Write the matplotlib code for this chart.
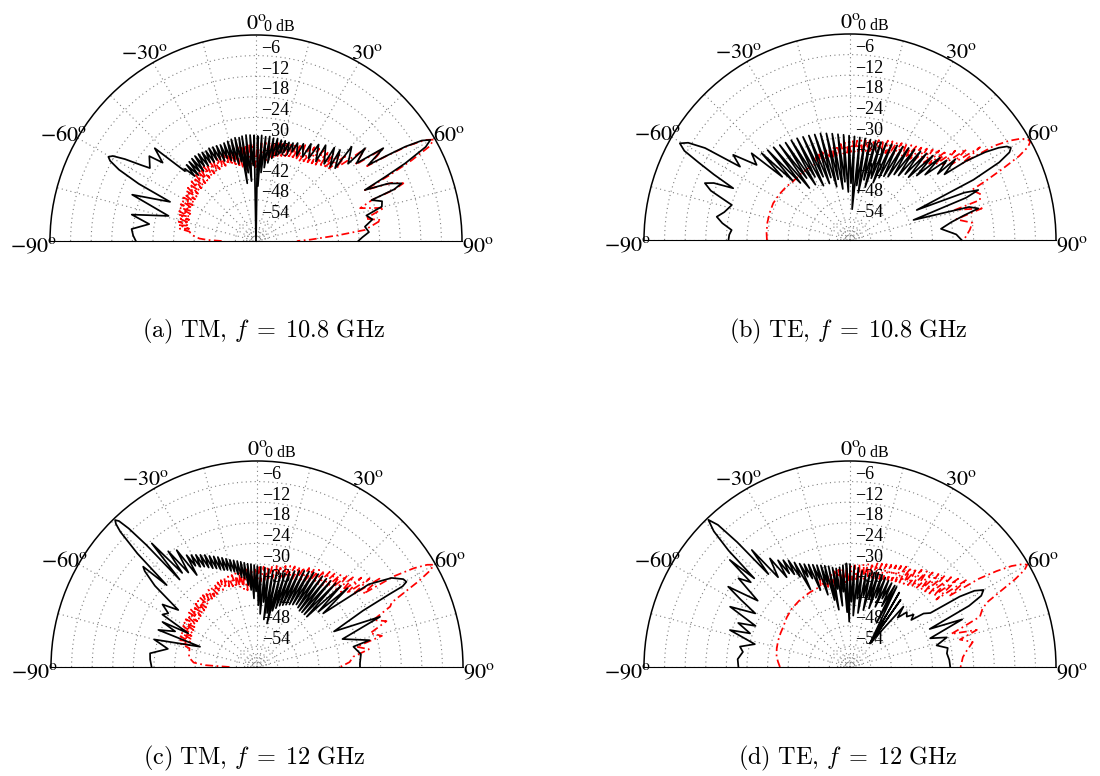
import numpy as np
import matplotlib
matplotlib.use("Agg")
import matplotlib.pyplot as plt

# --- dB floor of the polar scale (centre of each plot) ---
DB_FLOOR = -60.0

# ---------------- (a) TM, 10.8 GHz ----------------
tm108_solid_theta = [
    -90, -87.5, -84.5, -81, -78, -74, -69.5, -65.5, -64, -62.5,
    -61.2, -60.3, -59.3, -58, -56.5, -55.5, -51.5, -50, -47.5, -45.5,
    -44.5, -43.4, -42.3, -41.2, -40.1, -39.0, -37.9, -36.8, -35.7, -34.6,
    -33.5, -32.4, -31.3, -30.2, -29.1, -28.0, -26.9, -25.8, -24.7, -23.6,
    -22.5, -21.4, -20.3, -19.2, -18.1, -17.0, -15.9, -14.8, -13.7, -12.6,
    -11.5, -10.4, -9.3, -8.6, -7.6, -6.5, -5.4, -4.3, -3.2, -2.1,
    -1.0, 0.0, 0.9, 2.0, 3.1, 4.2, 5.3, 6.4, 7.5, 8.6,
    9.7, 10.8, 11.9, 13.0, 14.1, 15.2, 16.3, 17.4, 18.5, 19.6,
    20.7, 22, 23, 25.5, 26, 29, 29.5, 32.5, 33, 37,
    36, 41.5, 40, 45, 42.7, 47.4, 45.4, 50, 49.6, 52.3,
    53.9, 55.9, 56.8, 57.7, 58.8, 59.9, 61, 62.5, 63.6, 64.9,
    66.5, 68.4, 69.5, 70.5, 72.5, 74.7, 77, 79.5, 82.5, 85.5,
    88, 90]
tm108_solid_db = [
    -25, -24.2, -23.6, -28.5, -23, -33.5, -21.5, -32.5, -22, -15,
    -11.5, -10.5, -11.5, -15, -20, -22.5, -20.3, -24.5, -20, -31,
    -30.5, -34, -30, -34.5, -29.8, -34, -29.6, -34.5, -29.5, -33.5,
    -29.6, -34, -29.8, -33.5, -30, -34, -29.7, -33.8, -29.9, -34.2,
    -30, -35, -30.2, -34.5, -30, -35.5, -29.8, -36, -29.5, -37,
    -29.3, -36.5, -29.5, -43, -29.2, -40, -29, -42.5, -29.1, -38,
    -29.2, -60, -29.4, -44, -29.2, -40, -29.5, -38.5, -29.3, -37,
    -29.6, -35.5, -29.5, -34.5, -29.7, -33.5, -29.6, -33, -29.7, -32.5,
    -29.5, -32, -29, -32.5, -28.5, -32, -27.5, -31.5, -26.5, -31,
    -25.5, -30, -24.5, -29.5, -23.9, -28.7, -20.9, -25, -18.3, -23,
    -14.1, -20.5, -15, -8.6, -3.5, -1.3, -3.5, -11, -18, -25,
    -18, -14.4, -17, -24.3, -21.5, -22, -27, -25.5, -28, -27,
    -29, -30.2]

tm108_dash_theta = [
    -90, -88.8, -87.5, -85, -83.5,
    -82.0, -80.8, -79.6, -78.4, -77.2, -76.0, -74.8, -73.6, -72.4, -71.2,
    -70.0, -68.8, -67.6, -66.4, -65.2, -64.0, -62.8, -61.6, -60.4, -59.2,
    -58.0, -56.8, -55.6, -54.4, -53.2, -52.0, -50.8, -49.6, -48.4, -47.2,
    -46.0, -44.8, -43.6, -42.4, -41.2, -40.0, -38.8, -37.6, -36.4, -35.2,
    -34.0, -32.8, -31.6, -30.4, -29.2, -28.0, -26.8, -25.6, -24.4, -23.2,
    -22.0, -20.8, -19.6, -18.4, -17.2, -16.0, -14.8, -13.6, -12.4, -11.2,
    -10.0, -8.8, -7.6, -6.4, -5.2, -4.0, -2.8, -1.6, -0.4, 0.8,
    2.0, 3.2, 4.4, 5.6, 6.8, 8.0, 9.2, 10.4, 11.6, 12.8,
    14.0, 15.2, 16.4, 17.6, 18.8, 20.0, 21.2, 22.4, 23.6, 24.8,
    26.0, 27.2, 28.4, 29.6, 30.8, 32.0, 33.2, 34.4, 35.6, 36.8,
    38.0, 39.2, 40.4, 41.6, 42.8, 44.0, 45.2, 46.4, 47.6,
    48.6, 49.8, 51, 52.5, 54, 55, 56, 57, 58, 59.2,
    60.3, 61.4, 62.6, 63.8, 65, 66.8, 68.6, 69.6, 70.5, 72.5,
    75.5, 78.5, 80.5, 84.2, 86, 88.5, 90]
tm108_dash_db = [
    -50, -46, -43.5, -41.5, -40.8,
    -40.5, -37.5, -40.2, -37.0, -40.0, -36.8, -39.8, -36.5, -39.6, -36.2,
    -39.4, -36.0, -39.3, -35.8, -39.1, -35.6, -39.0, -35.5, -38.8, -35.3,
    -38.7, -35.2, -38.5, -35.0, -38.4, -34.8, -38.2, -34.6, -38.0, -34.4,
    -37.9, -34.2, -37.7, -34.0, -37.6, -33.8, -37.4, -33.6, -37.2, -33.5,
    -37.0, -33.4, -36.9, -33.2, -36.8, -33.1, -36.6, -33.0, -36.5, -32.8,
    -36.4, -32.7, -36.3, -32.5, -36.8, -32.4, -37.5, -32.2, -38.0, -32.0,
    -38.5, -31.9, -39.0, -31.8, -38.0, -31.7, -37.5, -31.6, -38.5, -31.5,
    -37.0, -31.4, -36.5, -31.2, -37.0, -31.0, -36.0, -30.8, -35.5, -30.5,
    -35.0, -30.2, -34.8, -29.9, -34.5, -29.6, -34.2, -29.3, -34.0, -29.0,
    -33.7, -28.6, -33.4, -28.2, -33.0, -27.8, -32.6, -27.4, -32.2, -27.0,
    -31.8, -26.4, -31.5, -25.8, -31.0, -25.0, -30.0, -23.5, -28.5,
    -25, -18.5, -21, -23.5, -14.5, -17, -21, -14, -7.5, -2.5,
    -0.4, -2.5, -9, -17, -25, -17, -13.9, -17, -24, -28.2,
    -21.5, -27.5, -23, -28.1, -36, -44, -48]

# ---------------- (b) TE, 10.8 GHz ----------------
te108_solid_theta = [
    -90, -87.5, -85.2, -82.5, -80.1, -77.5, -73.5, -70.5, -68.6, -67.3,
    -66.1, -64.3, -62.9, -61.7, -60.4, -59, -57.6, -56.3, -53.9, -51.2,
    -48.6,
    -47.0, -45.5, -44.0, -42.5, -41.0, -39.5, -38.0, -36.5, -35.0, -33.5,
    -32.0, -30.5, -29.0, -27.5, -26.0, -24.5, -23.0, -21.5, -20.0, -18.5,
    -17.0, -15.5, -14.0, -12.5, -11.0, -9.5, -8.0, -6.5, -5.0, -3.5,
    -2.0, -0.5, 1.0, 2.5, 4.0, 5.5, 7.0, 8.5, 10.0, 11.5,
    13.0, 14.5, 16.0, 17.5, 19.0, 20.5, 22.0, 23.5, 25.0, 26.5,
    28.0, 29.5, 31.0, 32.5, 34.0, 35.5, 37.0, 38.5, 40.0, 41.5,
    43.0, 44.5, 46.0, 47.5, 49.0, 50.5,
    53, 52.5, 55.2, 55.8, 57, 58.2, 59.2, 60.2, 61.2, 62.5,
    64, 65.8, 67.5, 68.7, 70, 72.5, 74.5, 76.2, 77.8, 80,
    83, 87, 90]
te108_solid_db = [
    -24.6, -24.8, -25.4, -22.5, -20.6, -22.5, -24.1, -17, -14.6, -17,
    -22.8, -16, -10.5, -5.2, -3, -5, -10, -21.5, -17.9, -25.1,
    -21.8,
    -33, -23.9, -36, -24.5, -38, -25, -40.8, -25.6, -38, -26,
    -41, -26.3, -39, -26.6, -42.4, -27, -40, -27.3, -42.5, -27.6,
    -41, -27.8, -44, -28.2, -42, -28.6, -45, -29, -43, -29.3,
    -46, -29.6, -43.5, -29.8, -51, -30, -44, -30.1, -46, -30.2,
    -42, -30.2, -44, -30.1, -41, -30, -42, -29.6, -40, -29.2,
    -39, -28.7, -38.5, -28.2, -37, -27.6, -36.5, -27, -35, -26.3,
    -35, -25.5, -33, -24.5, -31, -23.5,
    -28, -21.3, -26.5, -19, -13, -9, -6.8, -6, -7, -11,
    -20, -38.7, -24, -19.9, -24, -40.6, -24, -21.5, -26, -30,
    -33.3, -29, -27.5]

te108_dash_theta = [
    -90, -85, -78, -71, -64.4, -57, -50, -44.2, -37, -30,
    -23.5,
    -22.3, -21.1, -19.9, -18.7, -17.5, -16.3, -15.1, -13.9, -12.7, -11.5,
    -10.3, -9.1, -7.9, -6.7, -5.5, -4.3, -3.1, -1.9, -0.7, 0.5,
    1.7, 2.9, 4.1, 5.3, 6.5, 7.7, 8.9, 10.1, 11.3, 12.5,
    13.7, 14.9, 16.1, 17.3, 18.5, 19.7, 20.9, 22.1, 23.3, 24.5,
    25.7, 26.9, 28.1, 29.3, 30.5, 31.7, 32.9, 34.1, 35.3, 36.5,
    37.7, 38.9, 40.1, 41.3, 42.5, 43.7, 44.9, 46.1, 47.3, 48.5,
    49.7, 50.9, 52.1, 53.3, 54.5, 55.7,
    56.8, 58, 59.3, 60.5, 61.4, 62.4, 63.6, 65, 66.5, 67.7,
    70.5, 72.9, 74, 76.5, 79, 82, 85.2, 89, 90]
te108_dash_db = [
    -35.8, -35.6, -35.4, -35.3, -35.2, -35.5, -35.8, -36.2, -36, -35.8,
    -35.6,
    -33.8, -36.0, -33.5, -35.8, -33.2, -35.6, -33.0, -35.5, -32.7, -35.3,
    -32.5, -35.2, -32.2, -35.0, -31.9, -34.8, -31.6, -34.6, -31.4, -34.4,
    -31.2, -34.3, -31.0, -34.1, -30.8, -33.9, -30.6, -33.7, -30.3, -33.5,
    -30.0, -33.3, -29.7, -33.1, -29.4, -32.9, -29.0, -32.7, -28.7, -32.4,
    -28.4, -32.1, -28.0, -31.8, -27.6, -31.4, -27.1, -31.0, -26.6, -30.6,
    -26.0, -30.1, -25.2, -29.5, -24.3, -28.8, -23.2, -28.0, -21.8, -26.8,
    -19.8, -25.2, -17.0, -23.0, -13.5, -20.5,
    -10, -5.5, -2.2, -0.5, -0.2, -1.5, -5, -11, -17, -21.7,
    -19.8, -20.4, -28.2, -20.5, -28.5, -24, -25, -26.5, -27]

# ---------------- (c) TM, 12 GHz ----------------
tm12_solid_theta = [
    -90, -86, -82.7, -78.5, -75, -70.4, -69.4, -66.5, -64.5, -63.9,
    -61, -58.8, -56.5, -54.1, -51.5, -49.5, -48.6, -47.8, -46.5, -45.3,
    -44.6, -44, -43.4, -42.8, -42.2, -41.5, -40.4, -38.5, -37.5, -36,
    -34.5, -33.2,
    -32.2, -31.3, -30.4, -29.5, -28.6, -27.7, -26.8, -25.9, -25.0, -24.1,
    -23.2, -22.3, -21.4, -20.5, -19.6, -18.7, -17.8, -16.9, -16.0, -15.1,
    -14.2, -13.3, -12.4, -11.5, -10.6, -9.7, -8.8, -7.9, -7.0, -6.1,
    -5.2, -4.3, -3.4, -2.5, -1.6, -0.7, 0.2, 1.2, 2.2, 3.4,
    4.6, 5.8, 7.0, 8.2, 9.4, 10.6, 11.8, 13.0, 14.2, 15.4,
    16.6, 17.8, 19.0, 20.2, 21.4, 22.6, 23.8, 25.0, 26.2, 27.4,
    28.6, 29.8, 31.0, 32.2, 33.4, 34.6, 35.8, 37.0, 38.2, 39.4,
    40.6, 42.0, 43.2, 44.7, 46.0, 48.0, 49.0, 51.0,
    53.5, 56.5, 59, 60.3, 61, 61.2, 62, 65.2, 67.8, 71.9,
    76.6, 78.1, 83, 88, 90]
tm12_solid_db = [
    -29.3, -28.8, -28.6, -33.5, -29, -42.4, -29.3, -34, -29.5, -37.7,
    -28.5, -29.8, -27, -31.7, -22, -17, -15.8, -24.5, -12, -4,
    -1.5, -0.5, -1.5, -5, -12, -26, -12.7, -25, -17.5, -26,
    -18.7, -28,
    -21.5, -25.5, -22.2, -26.5, -22.8, -27.0, -23.4, -27.8, -24.0, -28.5,
    -24.8, -29.0, -25.4, -29.6, -26.0, -30.2, -26.6, -30.5, -27.2, -31.0,
    -27.8, -31.5, -28.2, -32.5, -28.6, -33.5, -29.0, -34.0, -29.4, -36.0,
    -29.8, -37.5, -30.0, -40.0, -30.3, -38.0, -30.6, -42.0, -30.8, -44.5,
    -31.0, -41.0, -31.3, -46.0, -31.6, -44.0, -31.8, -47.0, -31.9, -43.0,
    -31.5, -42.0, -30.8, -41.0, -30.0, -40.5, -29.4, -40.0, -28.8, -39.5,
    -28.3, -39.0, -27.9, -38.5, -27.6, -39.0, -27.4, -39.5, -27.3, -39.4,
    -27.0, -39.4, -26.5, -39.4, -26.0, -36.0, -25.0, -35.2,
    -19.5, -13, -10.3, -9.9, -11.5, -16, -25, -35.3, -21.3, -33.8,
    -26.3, -31.3, -29.5, -30, -30]

tm12_dash_theta = [
    -90, -88, -86, -82, -78, -74.5,
    -73.0, -71.8, -70.6, -69.4, -68.2, -67.0, -65.8, -64.6, -63.4, -62.2,
    -61.0, -59.8, -58.6, -57.4, -56.2, -55.0, -53.8, -52.6, -51.4, -50.2,
    -49.0, -47.8, -46.6, -45.4, -44.2, -43.0, -41.8, -40.6, -39.4, -38.2,
    -37.0, -35.8, -34.6, -33.4, -32.2, -31.0, -29.8, -28.6, -27.4, -26.2,
    -25.0, -23.8, -22.6, -21.4, -20.2, -19.0, -17.8, -16.6, -15.4, -14.2,
    -13.0, -11.8, -10.6, -9.4, -8.2, -7.0, -5.8, -4.6, -3.4, -2.2,
    -1.0, 0.2, 1.4, 2.6, 3.8, 5.0, 6.2, 7.4, 8.6, 9.8,
    11.0, 12.2, 13.4, 14.6, 15.8, 17.0, 18.2, 19.4, 20.6, 21.8,
    23.0, 24.2, 25.4, 26.6, 27.8, 29.0, 30.2, 31.4, 32.6, 33.8,
    35.0, 36.2, 37.4, 38.6, 39.8, 41.0, 42.2, 43.4, 44.6, 45.8,
    47.0, 48.2, 49.4, 50.6, 51.8, 53.0, 54.2, 55.4,
    56.5, 57.8, 59, 59.9, 60.8, 62, 63.2, 64.4, 65.6, 68,
    70.5, 73.4, 76, 78.5, 81, 83.9, 87, 90]
tm12_dash_db = [
    -52, -45, -41.5, -40, -39.8, -39.6,
    -36.5, -39.4, -36.3, -39.2, -36.0, -39.0, -35.8, -38.9, -35.6, -38.7,
    -35.4, -38.6, -35.2, -38.4, -35.0, -38.3, -34.8, -38.1, -34.6, -38.0,
    -34.5, -37.9, -34.4, -37.8, -34.3, -37.5, -34.2, -37.2, -34.0, -36.9,
    -33.8, -36.6, -33.6, -36.2, -33.4, -36.0, -33.2, -35.8, -33.0, -35.6,
    -32.8, -35.5, -32.6, -35.3, -32.4, -35.2, -32.3, -35.5, -32.2, -36.0,
    -32.0, -36.5, -31.8, -37.0, -31.6, -37.5, -31.4, -36.5, -31.3, -36.0,
    -31.1, -35.5, -30.9, -35.0, -30.7, -34.6, -30.5, -34.2, -30.3, -33.8,
    -30.0, -33.5, -29.7, -33.2, -29.4, -33.0, -29.0, -32.7, -28.7, -32.4,
    -28.3, -32.0, -27.9, -31.6, -27.4, -31.2, -26.9, -30.8, -26.4, -30.4,
    -25.8, -30.0, -25.1, -29.6, -24.4, -29.2, -23.6, -28.6, -22.6, -28.0,
    -21.4, -27.2, -20.0, -26.2, -18.3, -25.0, -16.0, -22.5,
    -12, -6, -2.2, -0.6, -2, -6.5, -12, -16.5, -17.4, -23.5,
    -20, -25.6, -22.5, -30.4, -27, -31.8, -33, -35.8]

# ---------------- (d) TE, 12 GHz ----------------
te12_solid_theta = [
    -90, -86, -82, -79.5, -76.5, -72.9, -71.4, -68.5, -66.5, -63.3,
    -60.5, -58.3, -56.6, -54.3, -51.5, -49.5, -48.3, -47.2,
    -46.2, -45.1, -43.9, -42.9, -42.1, -41.3, -40, -38.7, -36.4, -35.2,
    -34, -33, -32, -31, -30, -29, -28, -27, -26, -25,
    -24, -23, -22, -21, -20, -19, -18, -17, -16, -15,
    -14, -13, -12, -11, -10, -9, -8, -7, -6, -5,
    -4, -3, -2, -1, 0, 1.2, 2.4, 3.6, 4.8, 6.0,
    7.2, 8.4, 9.6, 10.8, 12.0, 13.2, 14.4, 15.6, 16.8, 18.0,
    19.2, 20.4, 21.6, 22.8, 24.0, 25.2, 26.4, 27.6, 28.8,
    31, 30.2, 40.2, 33.5, 40, 37, 40.4, 41.5, 44, 46,
    48.4, 50.5, 52.5, 54, 56.1, 57.3, 58.5, 60, 61.5, 62.8,
    64.5, 67, 70.3, 73, 76, 79, 82, 86, 90]
te12_solid_db = [
    -27.5, -27.2, -28.5, -27.4, -31.5, -23.4, -29.3, -25, -30, -20.9,
    -28.3, -22.5, -17.5, -26.9, -18.5, -22, -13.1, -22,
    -11, -4, -0.5, -3.5, -11, -24, -15.5, -26.5, -20.7, -28,
    -22.5, -27.5, -23.3, -28.5, -24.2, -30.0, -25.5, -34.7, -26.5, -31.0,
    -27.2, -32.0, -27.8, -36.0, -28.3, -33.0, -28.8, -38.0, -29.2, -35.0,
    -29.6, -40.0, -30.0, -43.0, -30.6, -37.0, -31.0, -42.0, -30.8, -38.0,
    -30.3, -44.0, -29.8, -46.8, -30.0, -41.0, -30.5, -45.0, -31.0, -40.0,
    -31.8, -44.1, -32.5, -39.0, -32.0, -43.0, -31.6, -39.5, -31.3, -42.0,
    -31.5, -38.5, -32.0, -41.0, -32.4, -38.0, -32.7, -40.0, -32.9,
    -45, -33, -51, -34, -50.5, -35.5, -51, -36.5, -40, -37,
    -37.9, -36, -37.5, -33.5, -31.8, -22, -17.5, -15.1, -16.5, -21,
    -34.3, -24.5, -35.2, -30.5, -34, -31, -31.5, -31, -30.8]

te12_dash_theta = [
    -90, -86, -82, -76, -70, -64, -58.9, -52, -45, -36.7,
    -28, -20,
    -18.8, -17.6, -16.4, -15.2, -14.0, -12.8, -11.6, -10.4, -9.2, -8.0,
    -6.8, -5.6, -4.4, -3.2, -2.0, -0.8, 0.4, 1.6, 2.8, 4.0,
    5.2, 6.4, 7.6, 8.8, 10.0, 11.2, 12.4, 13.6, 14.8, 16.0,
    17.2, 18.4, 19.6, 20.8, 22.0, 23.2, 24.4, 25.6, 26.8, 28.0,
    29.2, 30.4, 31.6, 32.8, 34.0, 35.2, 36.4, 37.6, 38.8, 40.0,
    41.2, 42.4, 43.6, 44.8, 46.0, 47.2, 48.4, 49.6, 50.8, 52.0,
    53.2, 54.4, 55.6,
    56.8, 58, 59.2, 60, 60.9, 62, 63.3, 64.8, 66.5, 68.8,
    70.5, 71.9, 73.7, 76, 78.5, 81.9, 85, 88, 90]
te12_dash_db = [
    -39.6, -39, -38.4, -38, -37.7, -37.5, -37.3, -36.6, -36, -35.6,
    -35.3, -35,
    -33.0, -35.6, -32.7, -35.8, -32.4, -36.2, -32.1, -36.0, -31.8, -35.8,
    -31.5, -35.6, -31.2, -35.3, -30.9, -35.0, -30.6, -34.7, -30.3, -34.4,
    -30.0, -34.2, -29.7, -34.0, -29.4, -33.7, -29.1, -33.5, -28.8, -33.2,
    -28.5, -33.0, -28.2, -32.7, -27.9, -32.4, -27.5, -32.1, -27.0, -31.8,
    -26.5, -31.5, -26.0, -31.2, -25.4, -30.8, -24.8, -30.4, -24.2, -30.0,
    -23.4, -29.5, -22.6, -29.0, -21.6, -28.5, -20.6, -28.0, -19.3, -28.1,
    -17.5, -24.5, -14.5,
    -9, -4.5, -1.5, -0.4, -1.8, -5.5, -11, -16, -18, -19.4,
    -25, -29, -21.5, -27, -23.5, -25.6, -27, -27.5, -27.8]

ring_db = [-6, -12, -18, -24, -30, -36, -42, -48, -54]
angle_ticks = [-90, -60, -30, 0, 30, 60, 90]
captions = [r"$\mathrm{(a)\ TM,}\,f\;=\;10.8\ \mathrm{GHz}$",
            r"$\mathrm{(b)\ TE,}\,f\;=\;10.8\ \mathrm{GHz}$",
            r"$\mathrm{(c)\ TM,}\,f\;=\;12\ \mathrm{GHz}$",
            r"$\mathrm{(d)\ TE,}\,f\;=\;12\ \mathrm{GHz}$"]

# --- layout (pixels on a 1100 x 776 canvas) ---
W, H = 1100, 776
R_PX = 206
centres = [(256, 241), (850, 240), (257, 667), (850, 667)]
caption_xy = [(264, 331), (848, 331), (254, 758), (848, 758)]

panels = [
    (tm108_solid_theta, tm108_solid_db, tm108_dash_theta, tm108_dash_db),
    (te108_solid_theta, te108_solid_db, te108_dash_theta, te108_dash_db),
    (tm12_solid_theta, tm12_solid_db, tm12_dash_theta, tm12_dash_db),
    (te12_solid_theta, te12_solid_db, te12_dash_theta, te12_dash_db),
]

GRID_KW = dict(color="0.5", linestyle=(0, (1, 3)), linewidth=0.8)


def rad(deg):
    return np.deg2rad(np.asarray(deg, dtype=float))


def to_r(db):
    return np.asarray(db, dtype=float) - DB_FLOOR


def setup_axes(ax):
    ax.set_theta_zero_location("N")
    ax.set_theta_direction(-1)
    ax.set_thetamin(-90)
    ax.set_thetamax(90)
    ax.set_ylim(0, -DB_FLOOR)
    spokes = np.arange(-90, 91, 15)
    ax.set_thetagrids(spokes, labels=[""] * len(spokes))
    rings = [0.9, 1.8, 2.7, 3.6] + [d - DB_FLOOR for d in ring_db[::-1]]
    ax.set_rgrids(rings, labels=[""] * len(rings))
    ax.grid(True, **GRID_KW)
    ax.tick_params(length=0)
    for name in ("start", "end", "inner"):
        if name in ax.spines:
            ax.spines[name].set_visible(False)
    ax.spines["polar"].set_linewidth(1.1)
    ax.spines["polar"].set_color("black")
    ax.patch.set_alpha(0)

    # angle labels outside the arc
    for a in angle_ticks:
        ax.annotate(r"$%d^{\mathrm{o}}$" % a, xy=(rad(a), 64.8),
                    xytext=(0, -3.5), textcoords="offset points",
                    ha="center", va="center", fontsize=16,
                    math_fontfamily="stix", annotation_clip=False)
    # dB labels along the 0 deg spoke
    for d in ring_db:
        ax.annotate("\u2212%d" % abs(d), xy=(0, d - DB_FLOOR),
                    xytext=(4, 5), textcoords="offset points",
                    ha="left", va="center", fontsize=13,
                    family="Liberation Serif", annotation_clip=False)
    ax.annotate("0 dB", xy=(0, -DB_FLOOR), xytext=(6, 5.5),
                textcoords="offset points", ha="left", va="center",
                fontsize=11.5, family="Liberation Serif",
                annotation_clip=False)


fig = plt.figure(figsize=(W / 100, H / 100), dpi=100)

for (cx, cy), (tx, ty), cap, (st, sd, dt, dd) in zip(centres, caption_xy,
                                                      captions, panels):
    # the half disc sits in the middle of a square polar box
    rect = [(cx - R_PX) / W, (H - cy - R_PX / 2) / H,
            2 * R_PX / W, 2 * R_PX / H]
    ax = fig.add_axes(rect, projection="polar")
    setup_axes(ax)
    ax.plot(rad(dt), to_r(dd), color="red", lw=1.25,
            linestyle=(0, (4.5, 2, 1, 2)), clip_on=False)
    ax.plot(rad(st), to_r(sd), color="black", lw=1.25, clip_on=False)
    fig.text(tx / W, 1 - ty / H, cap, ha="center", va="center",
             fontsize=17.5, math_fontfamily="cm")

fig.savefig("out.png", dpi=100)
